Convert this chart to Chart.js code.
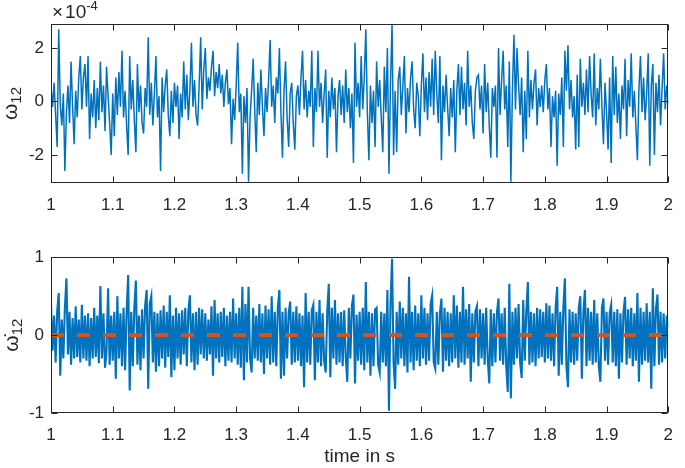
<!DOCTYPE html>
<html>
<head>
<meta charset="utf-8">
<script src="https://cdn.jsdelivr.net/npm/chart.js@4.4.1/dist/chart.umd.min.js"></script>
<style>
  html, body { margin: 0; padding: 0; background: #fff; width: 685px; height: 468px; overflow: hidden; }
  canvas { position: absolute; left: 0; }
  #omegaChart { top: 0; }
  #omegaDotChart { top: 240px; }
</style>
</head>
<body>
<canvas id="omegaChart" width="685" height="230"></canvas>
<canvas id="omegaDotChart" width="685" height="228"></canvas>
<script>
// sampling of both signals (time in s)
const T_START = 1;
const T_STEP = 0.0025;

const TIME_TICKS = [1, 1.1, 1.2, 1.3, 1.4, 1.5, 1.6, 1.7, 1.8, 1.9, 2];
const OMEGA_TICKS = [-2, 0, 2];
const OMEGA_DOT_TICKS = [-1, 0, 1];

// omega_12 in units of 1e-5 (shown as x10^-4)
const OMEGA = [
  5, -2, 7, -5, -17, 27, -1, -9, 3, -26,
  -4, 6, -8, 15, -2, -16, 4, -6, 9, 17,
  -3, 9, 14, -2, 17, -14, 3, -6, 8, -10,
  5, -7, 15, -4, 6, -11, 13, 2, -8, -20,
  3, -13, 9, -5, 11, -2, 19, -6, 4, -9,
  -20, 17, -3, 8, -7, -19, 14, -4, 6, -8,
  -12, 5, -2, 24, -5, 7, -9, 3, 17, -6,
  2, -26, 9, -4, 6, 12, -5, -13, 4, -8,
  7, -2, 6, -14, 3, -6, 15, -3, 10, -7,
  4, 22, -2, 8, -5, -9, 6, 24, -3, 12,
  20, 1, 9, 4, 13, 19, 2, 11, 5, 14,
  3, 10, -2, 7, 12, -1, 5, -16, 1, -7,
  6, 22, -4, 3, -27, 2, -8, 5, -30, -6,
  4, 16, -3, -19, 7, -5, 12, -2, -13, 5,
  -4, 8, 23, -2, 6, -8, 9, 3, 20, -4,
  -21, 4, 15, -6, -17, 3, 7, -8, -18, 2,
  6, -5, 9, 19, -3, 8, -6, 4, -2, 19,
  -17, 5, -4, 19, -2, 7, -8, 3, 12, -21,
  4, -6, 9, -3, 5, -19, 2, 8, -5, 6,
  -8, 12, -4, 5, -10, 3, -23, 22, -2, 7,
  -6, 17, -3, 9, 27, -4, -22, 6, -8, 4,
  -17, 15, -2, 8, -6, -19, 13, -4, 20, -27,
  7, 29, -20, 4, -19, 8, 13, -5, 6, 17,
  -12, 5, -4, 9, 15, -3, -10, 7, 2, -13,
  6, 18, -4, 9, -7, 11, -2, 16, -5, 19,
  3, -8, 17, -22, 6, -4, 10, -2, -13, 5,
  -6, 8, -19, 4, 14, -5, 13, -3, 7, -9,
  19, -2, 6, -8, -14, 4, 9, 10, -3, 6,
  -12, 14, -4, 7, -9, -21, 5, -2, 6, -21,
  20, -5, 8, 19, -3, 6, -17, 15, -30, 4,
  25, -3, 20, 6, -5, 9, -19, 4, -14, 19,
  -6, 8, -3, 7, 12, -9, 5, -2, 6, -4,
  8, 14, -3, 5, -17, 2, -6, 4, -24, 3,
  -5, 9, -17, 19, 4, 21, -3, 8, -6, 2,
  -18, 10, -17, 16, -2, 7, -5, 12, -4, 17,
  3, -6, 18, -9, 5, -3, 16, -2, -16, 7,
  -4, -18, 9, -23, 17, -5, 13, -8, 3, -14,
  6, -3, 16, -13, 8, -2, 18, -6, 4, -9,
  -22, 5, 17, -4, 9, -7, 3, 18, -24, 6,
  14, -20, 7, -4, 10, -9, 5, 18, -3, 6,
  -1
];

// d(omega_12)/dt in hundredths
const OMEGA_DOT = [
  40, -20, 25, -35, 30, 54, -52, 20, -30, 35,
  73, -25, 30, -38, 22, -30, 37, -28, 20, -35,
  39, -30, 25, -33, 28, -40, 22, -30, 35, -28,
  25, -36, 63, -30, 28, -42, -20, 60, -38, 25,
  -33, 30, -56, 50, -30, 28, -40, 35, -45, 30,
  77, -71, 30, -40, 35, 70, -38, 25, -45, 33,
  -30, 38, 58, -69, 40, 50, -35, 30, -47, 28,
  -40, 32, -30, 38, -42, 30, -28, 51, -54, 25,
  -45, 35, -30, 28, -38, 32, -25, 35, -40, 30,
  51, -35, 28, -45, 30, -38, 35, -25, 33, -30,
  28, -33, 20, -25, 37, -52, 45, -30, 28, -35,
  30, -28, 35, -40, 25, -33, 30, -35, 47, -30,
  28, -38, 35, -42, 62, -58, 40, -35, 62, -30,
  -48, 35, -30, 25, -33, 40, -35, 28, -50, 38,
  -30, 33, -38, 50, -35, 30, -40, 35, 58, -56,
  30, -52, 35, -30, 28, 43, -38, 30, -35, 37,
  -33, 28, -40, 25, -67, 54, -35, 30, -38, 32,
  39, -58, 30, -35, 45, -40, 28, -33, -48, 30,
  66, -54, 35, -30, 45, -38, 28, -35, 30, -40,
  32, -28, -60, 35, -30, 38, 52, -62, 26, -33,
  30, -38, 35, -45, 68, -35, 30, -52, 28, -40,
  33, 35, -38, -48, 30, -35, 28, -40, 58, -97,
  40, 98, -35, -69, 30, -38, 43, -30, 35, -40,
  28, -48, 75, -35, 30, -45, 38, -33, 28, -40,
  51, -30, 35, -38, 28, -33, 40, 51, -35, -43,
  30, -38, 28, 47, -47, 35, -33, 30, -40, 28,
  -35, 51, -30, 38, -42, 30, -35, 62, -38, 33,
  -30, 40, -60, 28, -35, 30, 37, -40, 33, -30,
  28, -38, 35, -30, -62, 33, -40, 28, -35, 30,
  47, -33, 28, -38, 35, -40, -73, 66, -81, 30,
  -38, 35, -30, 40, -35, -55, 45, -33, 30, 68,
  -38, 30, -35, 28, -40, 35, -30, 33, -28, 30,
  -35, 41, -30, 38, -33, 28, -40, 35, 62, -52,
  30, -38, 35, 73, -40, -67, 33, -35, 30, -38,
  28, -33, 35, 50, -56, 30, 58, -40, 35, -33,
  30, -38, 45, -35, 28, -40, -60, 35, 47, -33,
  30, -38, 28, 39, -35, 30, -40, 33, -56, 28,
  -35, 30, 49, -38, 33, -30, 35, -40, 28, -33,
  54, -60, 35, -38, 30, -33, 41, -35, 30, -69,
  60, -40, 33, 52, -38, 30, -35, 28, -30, 25,
  10
];

// dashed reference line in the lower plot
const REF_TIME = [1, 2];
const REF_VALUE = [0, 0];

const BLUE = '#0072BD';
const ORANGE = '#D95319';
const TEXT = '#262626';
const FAMILY = "'Liberation Sans', Arial, Helvetica, sans-serif";
const TICK_LEN = 6;

const toPoints = (vals, scale) => vals.map((v, i) => ({ x: T_START + i * T_STEP, y: v * scale }));

// MATLAB style box with inward ticks, rotated y label and exponent
const axesBox = {
  id: 'axesBox',
  afterDatasetsDraw(chart, args, o) {
    const { ctx, chartArea: a } = chart;
    const sx = chart.scales.x, sy = chart.scales.y;
    const l = Math.round(a.left) + 0.5, r = Math.round(a.right) - 0.5;
    const t = Math.round(a.top) + 0.5, b = Math.round(a.bottom) - 0.5;
    ctx.save();
    ctx.strokeStyle = TEXT;
    ctx.lineWidth = 1;
    ctx.strokeRect(l, t, r - l, b - t);
    ctx.beginPath();
    sx.ticks.forEach(tk => {
      const p = Math.round(sx.getPixelForValue(tk.value)) + 0.5;
      ctx.moveTo(p, b); ctx.lineTo(p, b - TICK_LEN);
      ctx.moveTo(p, t); ctx.lineTo(p, t + TICK_LEN);
    });
    sy.ticks.forEach(tk => {
      const p = Math.round(sy.getPixelForValue(tk.value)) + 0.5;
      ctx.moveTo(l, p); ctx.lineTo(l + TICK_LEN, p);
      ctx.moveTo(r, p); ctx.lineTo(r - TICK_LEN, p);
    });
    ctx.stroke();

    ctx.fillStyle = TEXT;
    ctx.textBaseline = 'alphabetic';
    if (o.exponent) {
      ctx.textAlign = 'left';
      ctx.font = `19px ${FAMILY}`;
      ctx.fillText('\u00d7', a.left + 1, 18);
      const wx = ctx.measureText('\u00d7').width + 2;
      ctx.fillText('10', a.left + 1 + wx, 18);
      const w = wx + ctx.measureText('10').width;
      ctx.font = `13px ${FAMILY}`;
      ctx.fillText(o.exponent, a.left + 1 + w, 10);
    }

    ctx.translate(o.labelX, (a.top + a.bottom) / 2);
    ctx.rotate(-Math.PI / 2);
    ctx.font = `21px ${FAMILY}`;
    const wMain = ctx.measureText(o.symbol).width;
    ctx.font = `15px ${FAMILY}`;
    const wSub = ctx.measureText(o.sub).width;
    const x0 = -(wMain + wSub) / 2;
    ctx.textAlign = 'left';
    ctx.font = `21px ${FAMILY}`;
    ctx.fillText(o.symbol, x0, 0);
    ctx.font = `15px ${FAMILY}`;
    ctx.fillText(o.sub, x0 + wMain, 4);
    ctx.restore();
  }
};

function makeOptions(cfg) {
  return {
    responsive: false,
    animation: false,
    events: [],
    layout: { padding: { top: cfg.padTop, right: 4, left: 0, bottom: 0 } },
    plugins: {
      legend: { display: false },
      tooltip: { enabled: false },
      axesBox: cfg.deco,
    },
    scales: {
      x: {
        type: 'linear', min: 1, max: 2,
        afterFit: s => { s.height = cfg.xHeight; },
        afterBuildTicks: s => { s.ticks = TIME_TICKS.map(v => ({ value: v })); },
        ticks: {
          color: TEXT, font: { size: 17, family: FAMILY }, padding: 12,
          maxRotation: 0, autoSkip: false,
          callback: v => String(+v.toFixed(1)),
        },
        grid: { display: false, drawTicks: false },
        border: { display: false },
        title: cfg.xTitle
          ? { display: true, text: cfg.xTitle, color: TEXT, font: { size: 19, family: FAMILY }, padding: { top: 0, bottom: 0 } }
          : { display: false },
      },
      y: {
        type: 'linear', min: cfg.yMin, max: cfg.yMax,
        afterFit: s => { s.width = 51; },
        afterBuildTicks: s => { s.ticks = cfg.yTicks.map(v => ({ value: v })); },
        ticks: { color: TEXT, font: { size: 17, family: FAMILY }, padding: 7 },
        grid: { display: false, drawTicks: false },
        border: { display: false },
      },
    },
  };
}

new Chart(document.getElementById('omegaChart'), {
  type: 'line',
  data: {
    datasets: [{
      data: toPoints(OMEGA, 0.1),
      borderColor: BLUE, borderWidth: 1.5,
      pointRadius: 0, tension: 0, fill: false,
    }],
  },
  options: makeOptions({
    padTop: 24, xHeight: 47, yMin: -3.05, yMax: 2.9, yTicks: OMEGA_TICKS,
    deco: { labelX: 17, symbol: '\u03c9', sub: '12', exponent: '-4' },
  }),
  plugins: [axesBox],
});

new Chart(document.getElementById('omegaDotChart'), {
  type: 'line',
  data: {
    datasets: [{
      data: REF_TIME.map((t, i) => ({ x: t, y: REF_VALUE[i] })),
      borderColor: ORANGE, borderWidth: 4, borderDash: [13, 13],
      pointRadius: 0, fill: false, order: 0,
    }, {
      data: toPoints(OMEGA_DOT, 0.01),
      borderColor: BLUE, borderWidth: 2.1,
      pointRadius: 0, tension: 0, fill: false, order: 1,
    }],
  },
  options: makeOptions({
    padTop: 15, xHeight: 55, yMin: -1, yMax: 1, yTicks: OMEGA_DOT_TICKS,
    xTitle: 'time in s',
    deco: { labelX: 18, symbol: '\u03c9\u0307', sub: '12' },
  }),
  plugins: [axesBox],
});
</script>
</body>
</html>
